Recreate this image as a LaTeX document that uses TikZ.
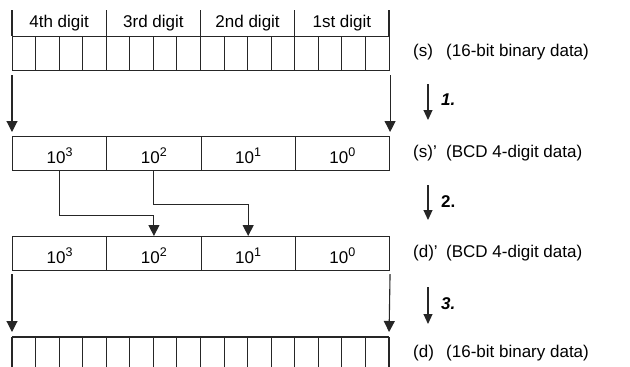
\documentclass[tikz,border=0pt]{standalone}
\usepackage{fontspec}
\setmainfont{Liberation Sans}
\usetikzlibrary{arrows.meta}
\newcommand{\tenpow}[1]{10\raisebox{0.42em}{\fontsize{12.5}{12.5}\selectfont #1}}
\begin{document}
\begin{tikzpicture}[x=1pt,y=-1pt,
  every node/.style={font=\fontsize{17}{20}\selectfont, inner sep=0pt},
  ln/.style={line width=1.1pt, draw=black!85},
  bigarr/.style={ln, -{Triangle[width=11pt,length=11pt]}},
  smallarr/.style={ln, -{Triangle[width=9pt,length=10pt]}},
  cell/.style={ln, draw, minimum width=94.25pt, minimum height=34pt, anchor=north west},
  val/.style={anchor=center},
  side/.style={anchor=west},
  stepno/.style={anchor=west, font=\fontsize{17}{20}\selectfont\bfseries\itshape}
]
\useasboundingbox (0,0) rectangle (630,367);

% ---- top register (s)
\node[ln, draw, minimum width=377pt, minimum height=34pt, anchor=north west] (sreg) at (12,36) {};
\foreach \k in {1,...,15} \draw[ln] ({12+\k*23.5625},36) -- ({12+\k*23.5625},70);
\foreach \x in {12,106.25,200.5,294.75,389} \draw[ln] (\x,10) -- (\x,36);
\node (h4) at (59.1,23) {4th digit};
\node (h3) at (153.4,23) {3rd digit};
\node (h2) at (247.6,23) {2nd digit};
\node (h1) at (341.9,23) {1st digit};

% ---- BCD row (s)'
\node[cell] (a3) at (12,136) {};
\node[cell] (a2) at (106.25,136) {};
\node[cell] (a1) at (200.5,136) {};
\node[cell] (a0) at (294.75,136) {};
\node[val] (ta3) at ([yshift=-2pt]a3.center) {\tenpow{3}};
\node[val] (ta2) at ([yshift=-2pt]a2.center) {\tenpow{2}};
\node[val] (ta1) at ([yshift=-2pt]a1.center) {\tenpow{1}};
\node[val] (ta0) at ([yshift=-2pt]a0.center) {\tenpow{0}};

% ---- BCD row (d)'
\node[cell] (b3) at (12,236) {};
\node[cell] (b2) at (106.25,236) {};
\node[cell] (b1) at (200.5,236) {};
\node[cell] (b0) at (294.75,236) {};
\node[val] (tb3) at ([yshift=-2pt]b3.center) {\tenpow{3}};
\node[val] (tb2) at ([yshift=-2pt]b2.center) {\tenpow{2}};
\node[val] (tb1) at ([yshift=-2pt]b1.center) {\tenpow{1}};
\node[val] (tb0) at ([yshift=-2pt]b0.center) {\tenpow{0}};

% ---- bottom register (d)
\coordinate (dl) at (12,337);
\coordinate (dr) at (389,337);
\draw[ln] (dl) -- (dr);
\foreach \k in {0,...,16} \draw[ln] ({12+\k*23.5625},337) -- ({12+\k*23.5625},368);

% ---- big arrows
\draw[bigarr, shorten <=4pt, shorten >=4pt] (sreg.south west) -- (a3.north west);
\draw[bigarr, shorten <=4pt, shorten >=4pt] (sreg.south east) -- (a0.north east);
\draw[bigarr, shorten <=3pt, shorten >=5pt] (b3.south west) -- (dl);
\draw[bigarr, shorten <=3pt, shorten >=5pt] (b0.south east) -- (dr);

% ---- transfer arrows
\draw[bigarr] (a3.south) -- ++(0,44) -| (b2.north);
\draw[bigarr] (a2.south) -- ++(0,33) -| (b1.north);

% ---- side labels
\node[side] (ls) at (413,52) {(s)};
\node[side] (ts) at (446,52) {(16-bit binary data)};
\node[side] (lsp) at (413,153) {(s)'};
\node[side] (tsp) at (446,153) {(BCD 4-digit data)};
\node[side] (ldp) at (413,253) {(d)'};
\node[side] (tdp) at (446,253) {(BCD 4-digit data)};
\node[side] (ld) at (413,353) {(d)};
\node[side] (td) at (446,353) {(16-bit binary data)};

% ---- step arrows
\coordinate (s1a) at (428,84);  \coordinate (s1b) at (428,120);
\coordinate (s2a) at (428,185); \coordinate (s2b) at (428,220);
\coordinate (s3a) at (428,287); \coordinate (s3b) at (428,324);
\draw[smallarr] (s1a) -- (s1b);
\draw[smallarr] (s2a) -- (s2b);
\draw[smallarr] (s3a) -- (s3b);
\node[stepno] (n1) at (441,100) {1.};
\node[stepno, font=\fontsize{17}{20}\selectfont\bfseries] (n2) at (441,202) {2.};
\node[stepno] (n3) at (441,304) {3.};
\end{tikzpicture}
\end{document}
